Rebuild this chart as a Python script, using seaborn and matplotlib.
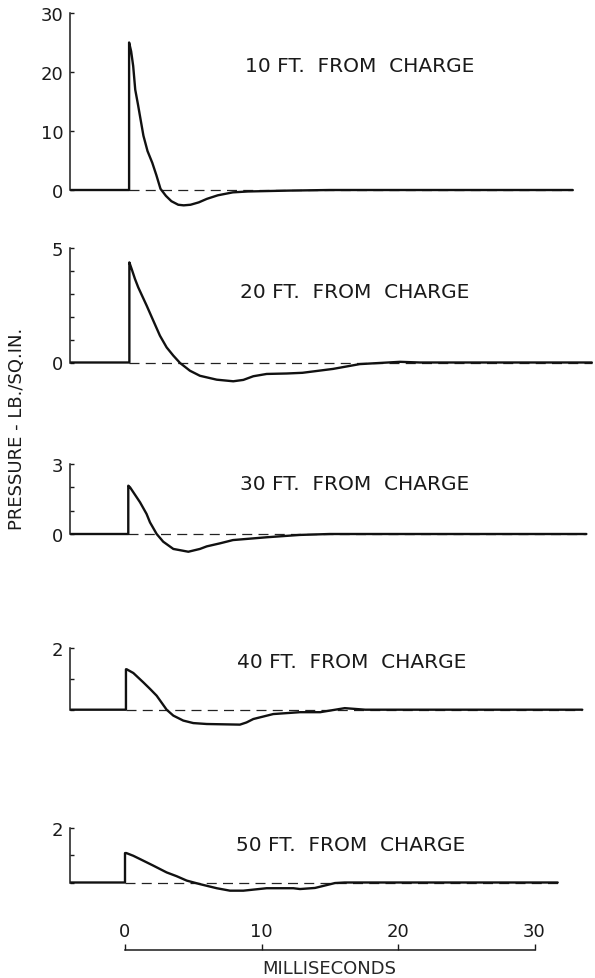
import matplotlib
matplotlib.use("Agg")
import matplotlib.pyplot as plt
import seaborn as sns

# Druckverlauf hinter der Ladung (Zeit in ms, Druck in lb/sq.in.)
t_10 = [-4, 0.3, 0.3, 0.45, 0.6, 0.75, 0.95, 1.1, 1.35, 1.65, 2.0, 2.3, 2.6, 3.0,
        3.4, 3.9, 4.3, 4.8, 5.4, 6.0, 6.8, 7.9, 9.0, 10.0, 12.0, 15.0, 20.0, 25.0, 32.8]
p_10 = [0, 0, 25, 23.5, 21, 17, 14.5, 12.5, 9.2, 6.6, 4.6, 2.5, 0.2, -1.0,
        -1.9, -2.5, -2.6, -2.5, -2.1, -1.5, -0.9, -0.4, -0.25, -0.2, -0.1, 0, 0, 0, 0]

t_20 = [-4, 0.32, 0.32, 0.49, 0.73, 0.97, 1.59, 2.07, 2.56, 3.05, 3.54, 4.03,
        4.76, 5.49, 6.72, 7.93, 8.67, 9.4, 10.38, 11.85, 13.0, 15.24, 17.2,
        20.15, 21.6, 34.2]
p_20 = [0, 0, 4.37, 4.08, 3.65, 3.28, 2.48, 1.83, 1.17, 0.66, 0.3, -0.02,
        -0.36, -0.58, -0.75, -0.82, -0.76, -0.6, -0.5, -0.48, -0.45, -0.28, -0.07,
        0.03, 0, 0]

t_30 = [-4, 0.24, 0.24, 0.37, 1.1, 1.58, 1.83, 2.32, 2.8, 3.54, 4.64, 5.49,
        5.99, 6.96, 7.91, 10.38, 12.8, 15.0, 33.8]
p_30 = [0, 0, 2.07, 2.0, 1.36, 0.86, 0.5, 0, -0.33, -0.64, -0.76, -0.64,
        -0.53, -0.4, -0.26, -0.14, -0.04, 0, 0]

t_40 = [-4, 0.07, 0.07, 0.12, 0.61, 1.34, 1.83, 2.32, 3.05, 3.54, 4.27, 5.0,
        5.99, 8.42, 8.9, 9.4, 10.86, 12.82, 14.3, 16.1, 17.6, 33.5]
p_40 = [0, 0, 1.3, 1.3, 1.18, 0.88, 0.67, 0.45, 0, -0.19, -0.35, -0.43,
        -0.46, -0.48, -0.41, -0.3, -0.14, -0.08, -0.08, 0.05, 0, 0]

t_50 = [-4, 0.0, 0.0, 0.1, 0.61, 1.1, 2.07, 3.05, 3.79, 4.52, 5.49, 6.72,
        7.69, 8.67, 10.38, 12.33, 12.82, 13.92, 15.38, 16.1, 31.7]
p_50 = [0, 0, 1.08, 1.08, 0.98, 0.86, 0.62, 0.37, 0.23, 0.07, -0.06, -0.21,
        -0.3, -0.3, -0.21, -0.21, -0.24, -0.2, -0.02, 0, 0]

times = [t_10, t_20, t_30, t_40, t_50]
pressures = [p_10, p_20, p_30, p_40, p_50]
labels = ["10 FT.  FROM  CHARGE", "20 FT.  FROM  CHARGE", "30 FT.  FROM  CHARGE",
          "40 FT.  FROM  CHARGE", "50 FT.  FROM  CHARGE"]
y_tops = [30, 5, 3, 2, 2]
y_ticks = [[0, 10, 20, 30], [0, 1, 2, 3, 4, 5], [0, 1, 2, 3], [0, 1, 2], [0, 1, 2]]
y_ticklabels = [["0", "10", "20", "30"], ["0", "", "", "", "", "5"],
                ["0", "", "", "3"], ["", "", "2"], ["", "", "2"]]
x_ticks = [0, 10, 20, 30]
x_ticklabels = ["0", "10", "20", "30"]

# Layout in Pixeln der Vorlage (595 x 979)
W, H = 595, 979
X0_PX, PX_PER_MS = 125, 13.65
X_LEFT, X_RIGHT = -4, (W - X0_PX) / PX_PER_MS
# (Pixel oberer Wert, Pixel Nulllinie, untere Achsgrenze)
panels_px = [(14, 191, -4), (249, 363.5, -1), (465, 535, -1),
             (648.5, 710.7, -0.7), (829, 883.5, -0.6)]
label_px = [(245, 67), (240, 293), (240, 485), (237, 662), (236, 846)]

sns.set_style("white")
plt.rcParams["font.family"] = ["DejaVu Sans"]
plt.rcParams["text.color"] = "#1a1a1a"

fig = plt.figure(figsize=(W / 100, H / 100), dpi=100)
left_px = X0_PX + X_LEFT * PX_PER_MS

for i in range(5):
    top_px, zero_px, y_low = panels_px[i]
    scale = (zero_px - top_px) / y_tops[i]
    bottom_px = zero_px - y_low * scale
    ax = fig.add_axes([left_px / W, 1 - bottom_px / H, (W - left_px) / W,
                       (bottom_px - top_px) / H])
    t, p = times[i], pressures[i]
    # gestrichelte Nulllinie ab dem Stoß
    ax.plot([t[1], t[-1]], [0, 0], color="#222222", lw=0.9,
            ls=(0, (8, 5)), zorder=1)
    sns.lineplot(x=t, y=p, ax=ax, estimator=None, sort=False, color="#111111",
                 lw=1.7, zorder=2)
    ax.set_xlim(X_LEFT, X_RIGHT)
    ax.set_ylim(y_low, y_tops[i])
    ax.set_xticks([])
    ax.set_yticks(y_ticks[i])
    ax.set_yticklabels(y_ticklabels[i])
    ax.tick_params(axis="y", left=True, direction="in", length=3, width=1.0,
                   pad=5, labelsize=13, colors="#1a1a1a")
    for side in ["top", "right", "bottom"]:
        ax.spines[side].set_visible(False)
    ax.spines["left"].set_bounds(0, y_tops[i])
    ax.spines["left"].set_linewidth(1.1)
    ax.spines["left"].set_color("#1a1a1a")
    ax.set_xlabel("")
    ax.set_ylabel("")
    ax.patch.set_alpha(0)
    fig.text(label_px[i][0] / W, 1 - label_px[i][1] / H, labels[i],
             fontsize=14.5, va="center", ha="left")

# gemeinsame Zeitachse unten
axis_px = 951
axb = fig.add_axes([left_px / W, 1 - (axis_px + 20) / H, (W - left_px) / W, 20 / H])
axb.set_xlim(X_LEFT, X_RIGHT)
axb.set_yticks([])
axb.xaxis.tick_top()
axb.set_xticks(x_ticks)
axb.set_xticklabels(x_ticklabels)
axb.tick_params(axis="x", top=True, direction="out", length=4, width=1.0, pad=3,
                labelsize=13, colors="#1a1a1a")
for side in ["left", "right", "bottom"]:
    axb.spines[side].set_visible(False)
axb.spines["top"].set_bounds(x_ticks[0], x_ticks[-1])
axb.spines["top"].set_linewidth(1.1)
axb.spines["top"].set_color("#1a1a1a")
axb.patch.set_alpha(0)
axb.set_xlabel("MILLISECONDS", fontsize=13)
axb.xaxis.set_label_coords((15 - X_LEFT) / (X_RIGHT - X_LEFT), 0.55)

fig.text(17 / W, 1 - 429 / H, "PRESSURE - LB./SQ.IN.", rotation=90,
         fontsize=13, va="center", ha="center")

fig.savefig("out.png", dpi=100)
